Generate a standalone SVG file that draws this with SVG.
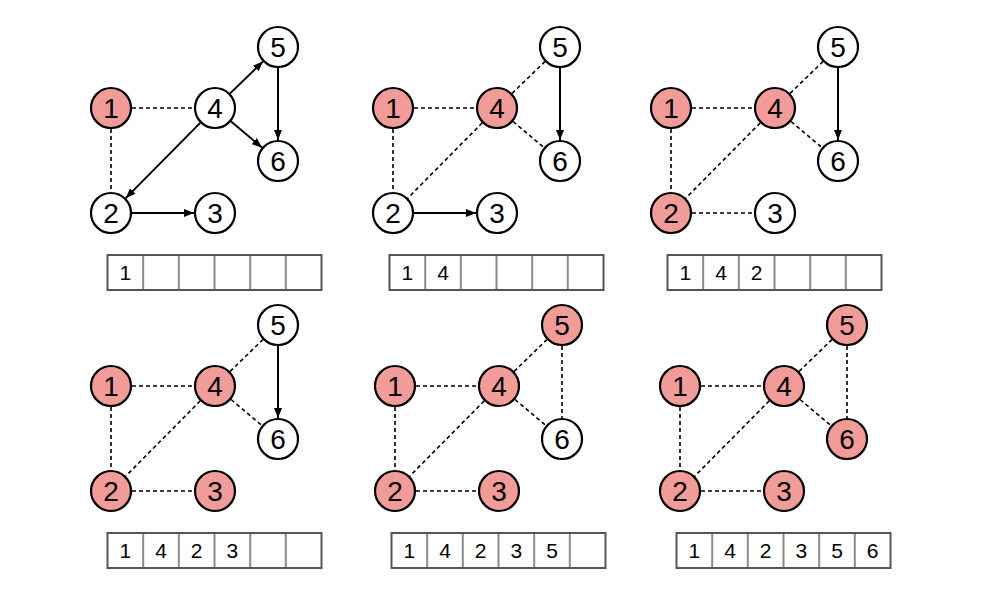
<svg xmlns="http://www.w3.org/2000/svg" width="1000" height="592" viewBox="0 0 1000 592">
<style>
.n circle{fill:#ffffff;stroke:#000000;stroke-width:2.2}
.n.v circle{fill:#F19C99}
.d{fill:none;stroke:#000000;stroke-width:1.6;stroke-dasharray:4 3}
.a{fill:none;stroke:#000000;stroke-width:2;marker-end:url(#ah)}
.arr rect.o{fill:none;stroke:#555555;stroke-width:2}
.arr line{stroke:#8a8a8a;stroke-width:2}
</style>
<defs>
<marker id="ah" markerUnits="userSpaceOnUse" markerWidth="10" markerHeight="8" refX="10" refY="4" orient="auto">
<path d="M0,0 L10,4 L0,8 z" fill="#000000"/>
</marker>
</defs>
<rect width="1000" height="592" fill="#ffffff"/>
<g id="connectors">
<g transform="translate(0,0)">
<path class="d" d="M132,108 H194"/>
<path class="d" d="M111,129 V192"/>
<path class="a" d="M132,213 H194"/>
<path class="a" d="M200.2,122.9 L125.8,198.1"/>
<path class="a" d="M230.1,93.4 L262.9,61.6"/>
<path class="a" d="M231.1,121.5 L261.9,147.5"/>
<path class="a" d="M278,68 V140"/>
</g>
<g transform="translate(282,0)">
<path class="d" d="M132,108 H194"/>
<path class="d" d="M111,129 V192"/>
<path class="a" d="M132,213 H194"/>
<path class="d" d="M200.2,122.9 L125.8,198.1"/>
<path class="d" d="M230.1,93.4 L262.9,61.6"/>
<path class="d" d="M231.1,121.5 L261.9,147.5"/>
<path class="a" d="M278,68 V140"/>
</g>
<g transform="translate(560,0)">
<path class="d" d="M132,108 H194"/>
<path class="d" d="M111,129 V192"/>
<path class="d" d="M132,213 H194"/>
<path class="d" d="M200.2,122.9 L125.8,198.1"/>
<path class="d" d="M230.1,93.4 L262.9,61.6"/>
<path class="d" d="M231.1,121.5 L261.9,147.5"/>
<path class="a" d="M278,68 V140"/>
</g>
<g transform="translate(0,278)">
<path class="d" d="M132,108 H194"/>
<path class="d" d="M111,129 V192"/>
<path class="d" d="M132,213 H194"/>
<path class="d" d="M200.2,122.9 L125.8,198.1"/>
<path class="d" d="M230.1,93.4 L262.9,61.6"/>
<path class="d" d="M231.1,121.5 L261.9,147.5"/>
<path class="a" d="M278,68 V140"/>
</g>
<g transform="translate(284,278)">
<path class="d" d="M132,108 H194"/>
<path class="d" d="M111,129 V192"/>
<path class="d" d="M132,213 H194"/>
<path class="d" d="M200.2,122.9 L125.8,198.1"/>
<path class="d" d="M230.1,93.4 L262.9,61.6"/>
<path class="d" d="M231.1,121.5 L261.9,147.5"/>
<path class="d" d="M278,68 V140"/>
</g>
<g transform="translate(569,278)">
<path class="d" d="M132,108 H194"/>
<path class="d" d="M111,129 V192"/>
<path class="d" d="M132,213 H194"/>
<path class="d" d="M200.2,122.9 L125.8,198.1"/>
<path class="d" d="M230.1,93.4 L262.9,61.6"/>
<path class="d" d="M231.1,121.5 L261.9,147.5"/>
<path class="d" d="M278,68 V140"/>
</g>
</g>

<g id="panel1" transform="translate(0,0)">
<g id="p1-n1" class="n v"><circle cx="111" cy="108" r="20"/><text x="111" y="118" font-family="Liberation Sans, Arial, sans-serif" font-size="28" text-anchor="middle">1</text></g>
<g id="p1-n2" class="n"><circle cx="111" cy="213" r="20"/><text x="111" y="223" font-family="Liberation Sans, Arial, sans-serif" font-size="28" text-anchor="middle">2</text></g>
<g id="p1-n3" class="n"><circle cx="215" cy="213" r="20"/><text x="215" y="223" font-family="Liberation Sans, Arial, sans-serif" font-size="28" text-anchor="middle">3</text></g>
<g id="p1-n4" class="n"><circle cx="215" cy="108" r="20"/><text x="215" y="118" font-family="Liberation Sans, Arial, sans-serif" font-size="28" text-anchor="middle">4</text></g>
<g id="p1-n5" class="n"><circle cx="278" cy="47" r="20"/><text x="278" y="57" font-family="Liberation Sans, Arial, sans-serif" font-size="28" text-anchor="middle">5</text></g>
<g id="p1-n6" class="n"><circle cx="278" cy="161" r="20"/><text x="278" y="171" font-family="Liberation Sans, Arial, sans-serif" font-size="28" text-anchor="middle">6</text></g>
<g id="p1-queue" class="arr">
<rect class="o" x="107.5" y="255" width="214" height="35"/>
<line x1="143.2" y1="256" x2="143.2" y2="289"/><line x1="178.8" y1="256" x2="178.8" y2="289"/><line x1="214.5" y1="256" x2="214.5" y2="289"/><line x1="250.2" y1="256" x2="250.2" y2="289"/><line x1="285.8" y1="256" x2="285.8" y2="289"/>
<text x="125.3" y="280.2" font-family="Liberation Sans, Arial, sans-serif" font-size="21" text-anchor="middle">1</text>
</g>
</g>

<g id="panel2" transform="translate(282,0)">
<g id="p2-n1" class="n v"><circle cx="111" cy="108" r="20"/><text x="111" y="118" font-family="Liberation Sans, Arial, sans-serif" font-size="28" text-anchor="middle">1</text></g>
<g id="p2-n2" class="n"><circle cx="111" cy="213" r="20"/><text x="111" y="223" font-family="Liberation Sans, Arial, sans-serif" font-size="28" text-anchor="middle">2</text></g>
<g id="p2-n3" class="n"><circle cx="215" cy="213" r="20"/><text x="215" y="223" font-family="Liberation Sans, Arial, sans-serif" font-size="28" text-anchor="middle">3</text></g>
<g id="p2-n4" class="n v"><circle cx="215" cy="108" r="20"/><text x="215" y="118" font-family="Liberation Sans, Arial, sans-serif" font-size="28" text-anchor="middle">4</text></g>
<g id="p2-n5" class="n"><circle cx="278" cy="47" r="20"/><text x="278" y="57" font-family="Liberation Sans, Arial, sans-serif" font-size="28" text-anchor="middle">5</text></g>
<g id="p2-n6" class="n"><circle cx="278" cy="161" r="20"/><text x="278" y="171" font-family="Liberation Sans, Arial, sans-serif" font-size="28" text-anchor="middle">6</text></g>
<g id="p2-queue" class="arr">
<rect class="o" x="107.5" y="255" width="214" height="35"/>
<line x1="143.2" y1="256" x2="143.2" y2="289"/><line x1="178.8" y1="256" x2="178.8" y2="289"/><line x1="214.5" y1="256" x2="214.5" y2="289"/><line x1="250.2" y1="256" x2="250.2" y2="289"/><line x1="285.8" y1="256" x2="285.8" y2="289"/>
<text x="125.3" y="280.2" font-family="Liberation Sans, Arial, sans-serif" font-size="21" text-anchor="middle">1</text><text x="161" y="280.2" font-family="Liberation Sans, Arial, sans-serif" font-size="21" text-anchor="middle">4</text>
</g>
</g>

<g id="panel3" transform="translate(560,0)">
<g id="p3-n1" class="n v"><circle cx="111" cy="108" r="20"/><text x="111" y="118" font-family="Liberation Sans, Arial, sans-serif" font-size="28" text-anchor="middle">1</text></g>
<g id="p3-n2" class="n v"><circle cx="111" cy="213" r="20"/><text x="111" y="223" font-family="Liberation Sans, Arial, sans-serif" font-size="28" text-anchor="middle">2</text></g>
<g id="p3-n3" class="n"><circle cx="215" cy="213" r="20"/><text x="215" y="223" font-family="Liberation Sans, Arial, sans-serif" font-size="28" text-anchor="middle">3</text></g>
<g id="p3-n4" class="n v"><circle cx="215" cy="108" r="20"/><text x="215" y="118" font-family="Liberation Sans, Arial, sans-serif" font-size="28" text-anchor="middle">4</text></g>
<g id="p3-n5" class="n"><circle cx="278" cy="47" r="20"/><text x="278" y="57" font-family="Liberation Sans, Arial, sans-serif" font-size="28" text-anchor="middle">5</text></g>
<g id="p3-n6" class="n"><circle cx="278" cy="161" r="20"/><text x="278" y="171" font-family="Liberation Sans, Arial, sans-serif" font-size="28" text-anchor="middle">6</text></g>
<g id="p3-queue" class="arr">
<rect class="o" x="107.5" y="255" width="214" height="35"/>
<line x1="143.2" y1="256" x2="143.2" y2="289"/><line x1="178.8" y1="256" x2="178.8" y2="289"/><line x1="214.5" y1="256" x2="214.5" y2="289"/><line x1="250.2" y1="256" x2="250.2" y2="289"/><line x1="285.8" y1="256" x2="285.8" y2="289"/>
<text x="125.3" y="280.2" font-family="Liberation Sans, Arial, sans-serif" font-size="21" text-anchor="middle">1</text><text x="161" y="280.2" font-family="Liberation Sans, Arial, sans-serif" font-size="21" text-anchor="middle">4</text><text x="196.7" y="280.2" font-family="Liberation Sans, Arial, sans-serif" font-size="21" text-anchor="middle">2</text>
</g>
</g>

<g id="panel4" transform="translate(0,278)">
<g id="p4-n1" class="n v"><circle cx="111" cy="108" r="20"/><text x="111" y="118" font-family="Liberation Sans, Arial, sans-serif" font-size="28" text-anchor="middle">1</text></g>
<g id="p4-n2" class="n v"><circle cx="111" cy="213" r="20"/><text x="111" y="223" font-family="Liberation Sans, Arial, sans-serif" font-size="28" text-anchor="middle">2</text></g>
<g id="p4-n3" class="n v"><circle cx="215" cy="213" r="20"/><text x="215" y="223" font-family="Liberation Sans, Arial, sans-serif" font-size="28" text-anchor="middle">3</text></g>
<g id="p4-n4" class="n v"><circle cx="215" cy="108" r="20"/><text x="215" y="118" font-family="Liberation Sans, Arial, sans-serif" font-size="28" text-anchor="middle">4</text></g>
<g id="p4-n5" class="n"><circle cx="278" cy="47" r="20"/><text x="278" y="57" font-family="Liberation Sans, Arial, sans-serif" font-size="28" text-anchor="middle">5</text></g>
<g id="p4-n6" class="n"><circle cx="278" cy="161" r="20"/><text x="278" y="171" font-family="Liberation Sans, Arial, sans-serif" font-size="28" text-anchor="middle">6</text></g>
<g id="p4-queue" class="arr">
<rect class="o" x="107.5" y="255" width="214" height="35"/>
<line x1="143.2" y1="256" x2="143.2" y2="289"/><line x1="178.8" y1="256" x2="178.8" y2="289"/><line x1="214.5" y1="256" x2="214.5" y2="289"/><line x1="250.2" y1="256" x2="250.2" y2="289"/><line x1="285.8" y1="256" x2="285.8" y2="289"/>
<text x="125.3" y="280.2" font-family="Liberation Sans, Arial, sans-serif" font-size="21" text-anchor="middle">1</text><text x="161" y="280.2" font-family="Liberation Sans, Arial, sans-serif" font-size="21" text-anchor="middle">4</text><text x="196.7" y="280.2" font-family="Liberation Sans, Arial, sans-serif" font-size="21" text-anchor="middle">2</text><text x="232.3" y="280.2" font-family="Liberation Sans, Arial, sans-serif" font-size="21" text-anchor="middle">3</text>
</g>
</g>

<g id="panel5" transform="translate(284,278)">
<g id="p5-n1" class="n v"><circle cx="111" cy="108" r="20"/><text x="111" y="118" font-family="Liberation Sans, Arial, sans-serif" font-size="28" text-anchor="middle">1</text></g>
<g id="p5-n2" class="n v"><circle cx="111" cy="213" r="20"/><text x="111" y="223" font-family="Liberation Sans, Arial, sans-serif" font-size="28" text-anchor="middle">2</text></g>
<g id="p5-n3" class="n v"><circle cx="215" cy="213" r="20"/><text x="215" y="223" font-family="Liberation Sans, Arial, sans-serif" font-size="28" text-anchor="middle">3</text></g>
<g id="p5-n4" class="n v"><circle cx="215" cy="108" r="20"/><text x="215" y="118" font-family="Liberation Sans, Arial, sans-serif" font-size="28" text-anchor="middle">4</text></g>
<g id="p5-n5" class="n v"><circle cx="278" cy="47" r="20"/><text x="278" y="57" font-family="Liberation Sans, Arial, sans-serif" font-size="28" text-anchor="middle">5</text></g>
<g id="p5-n6" class="n"><circle cx="278" cy="161" r="20"/><text x="278" y="171" font-family="Liberation Sans, Arial, sans-serif" font-size="28" text-anchor="middle">6</text></g>
<g id="p5-queue" class="arr">
<rect class="o" x="107.5" y="255" width="214" height="35"/>
<line x1="143.2" y1="256" x2="143.2" y2="289"/><line x1="178.8" y1="256" x2="178.8" y2="289"/><line x1="214.5" y1="256" x2="214.5" y2="289"/><line x1="250.2" y1="256" x2="250.2" y2="289"/><line x1="285.8" y1="256" x2="285.8" y2="289"/>
<text x="125.3" y="280.2" font-family="Liberation Sans, Arial, sans-serif" font-size="21" text-anchor="middle">1</text><text x="161" y="280.2" font-family="Liberation Sans, Arial, sans-serif" font-size="21" text-anchor="middle">4</text><text x="196.7" y="280.2" font-family="Liberation Sans, Arial, sans-serif" font-size="21" text-anchor="middle">2</text><text x="232.3" y="280.2" font-family="Liberation Sans, Arial, sans-serif" font-size="21" text-anchor="middle">3</text><text x="268" y="280.2" font-family="Liberation Sans, Arial, sans-serif" font-size="21" text-anchor="middle">5</text>
</g>
</g>

<g id="panel6" transform="translate(569,278)">
<g id="p6-n1" class="n v"><circle cx="111" cy="108" r="20"/><text x="111" y="118" font-family="Liberation Sans, Arial, sans-serif" font-size="28" text-anchor="middle">1</text></g>
<g id="p6-n2" class="n v"><circle cx="111" cy="213" r="20"/><text x="111" y="223" font-family="Liberation Sans, Arial, sans-serif" font-size="28" text-anchor="middle">2</text></g>
<g id="p6-n3" class="n v"><circle cx="215" cy="213" r="20"/><text x="215" y="223" font-family="Liberation Sans, Arial, sans-serif" font-size="28" text-anchor="middle">3</text></g>
<g id="p6-n4" class="n v"><circle cx="215" cy="108" r="20"/><text x="215" y="118" font-family="Liberation Sans, Arial, sans-serif" font-size="28" text-anchor="middle">4</text></g>
<g id="p6-n5" class="n v"><circle cx="278" cy="47" r="20"/><text x="278" y="57" font-family="Liberation Sans, Arial, sans-serif" font-size="28" text-anchor="middle">5</text></g>
<g id="p6-n6" class="n v"><circle cx="278" cy="161" r="20"/><text x="278" y="171" font-family="Liberation Sans, Arial, sans-serif" font-size="28" text-anchor="middle">6</text></g>
<g id="p6-queue" class="arr">
<rect class="o" x="107.5" y="255" width="214" height="35"/>
<line x1="143.2" y1="256" x2="143.2" y2="289"/><line x1="178.8" y1="256" x2="178.8" y2="289"/><line x1="214.5" y1="256" x2="214.5" y2="289"/><line x1="250.2" y1="256" x2="250.2" y2="289"/><line x1="285.8" y1="256" x2="285.8" y2="289"/>
<text x="125.3" y="280.2" font-family="Liberation Sans, Arial, sans-serif" font-size="21" text-anchor="middle">1</text><text x="161" y="280.2" font-family="Liberation Sans, Arial, sans-serif" font-size="21" text-anchor="middle">4</text><text x="196.7" y="280.2" font-family="Liberation Sans, Arial, sans-serif" font-size="21" text-anchor="middle">2</text><text x="232.3" y="280.2" font-family="Liberation Sans, Arial, sans-serif" font-size="21" text-anchor="middle">3</text><text x="268" y="280.2" font-family="Liberation Sans, Arial, sans-serif" font-size="21" text-anchor="middle">5</text><text x="303.6" y="280.2" font-family="Liberation Sans, Arial, sans-serif" font-size="21" text-anchor="middle">6</text>
</g>
</g>
</svg>
